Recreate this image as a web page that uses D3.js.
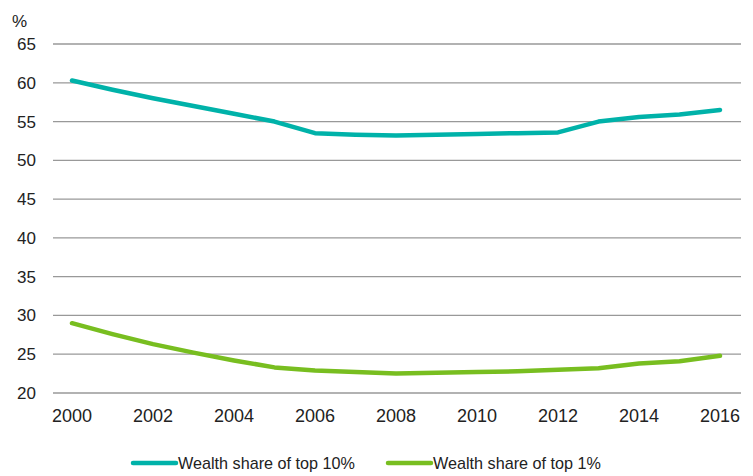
<!DOCTYPE html>
<html>
<head>
<meta charset="utf-8">
<script src="https://cdn.jsdelivr.net/npm/d3@7"></script>
<style>
  body { margin: 0; background: #fff; }
  svg { font-family: "Liberation Sans", Arial, sans-serif; }
</style>
</head>
<body>
<svg id="chart" width="753" height="476"></svg>
<script>
const years = [2000, 2001, 2002, 2003, 2004, 2005, 2006, 2007, 2008, 2009, 2010, 2011, 2012, 2013, 2014, 2015, 2016];
const top10 = [60.3, 59.1, 58.0, 57.0, 56.0, 55.0, 53.5, 53.3, 53.2, 53.3, 53.4, 53.5, 53.6, 55.0, 55.6, 55.9, 56.5];
const top1 = [29.0, 27.6, 26.3, 25.2, 24.2, 23.3, 22.9, 22.7, 22.5, 22.6, 22.7, 22.8, 23.0, 23.2, 23.8, 24.1, 24.8];
const yTicks = [20, 25, 30, 35, 40, 45, 50, 55, 60, 65];
const xTicks = [2000, 2002, 2004, 2006, 2008, 2010, 2012, 2014, 2016];
const seriesNames = ['Wealth share of top 10%', 'Wealth share of top 1%'];
const colors = ['#00b2a9', '#78be20'];

const svg = d3.select('#chart');

const x = d3.scaleLinear().domain([2000, 2016]).range([72, 720]);
const y = d3.scaleLinear().domain([20, 65]).range([393, 44]);
const gridLeft = 53, gridRight = 741;

// gridlines
svg.append('g').selectAll('line')
  .data(yTicks)
  .enter().append('line')
  .attr('x1', gridLeft).attr('x2', gridRight)
  .attr('y1', d => y(d)).attr('y2', d => y(d))
  .attr('stroke', '#999').attr('stroke-width', 1.3);

// y labels
svg.append('g').selectAll('text')
  .data(yTicks)
  .enter().append('text')
  .attr('x', 36).attr('y', d => y(d))
  .attr('dy', '0.35em')
  .attr('text-anchor', 'end')
  .attr('font-size', 17)
  .attr('fill', '#222')
  .text(d => d);

svg.append('text')
  .attr('x', 12).attr('y', 27)
  .attr('font-size', 17)
  .attr('fill', '#222')
  .text('%');

// x labels
svg.append('g').selectAll('text')
  .data(xTicks)
  .enter().append('text')
  .attr('x', d => x(d)).attr('y', 422)
  .attr('text-anchor', 'middle')
  .attr('font-size', 18)
  .attr('fill', '#222')
  .text(d => d);

const line = d3.line()
  .x((d, i) => x(years[i]))
  .y(d => y(d));

[top10, top1].forEach((s, i) => {
  svg.append('path')
    .datum(s)
    .attr('d', line)
    .attr('fill', 'none')
    .attr('stroke', colors[i])
    .attr('stroke-width', 4.5)
    .attr('stroke-linejoin', 'round')
    .attr('stroke-linecap', 'round');
});

// legend
const legendX = [133, 388];
const lg = svg.append('g').selectAll('g')
  .data(seriesNames)
  .enter().append('g')
  .attr('transform', (d, i) => `translate(${legendX[i]}, 463)`);

lg.append('line')
  .attr('x1', 0).attr('x2', 43)
  .attr('stroke', (d, i) => colors[i])
  .attr('stroke-width', 4.5)
  .attr('stroke-linecap', 'round');

lg.append('text')
  .attr('x', 45).attr('dy', '0.35em')
  .attr('font-size', 16.2)
  .attr('fill', '#222')
  .text(d => d);
</script>
</body>
</html>
